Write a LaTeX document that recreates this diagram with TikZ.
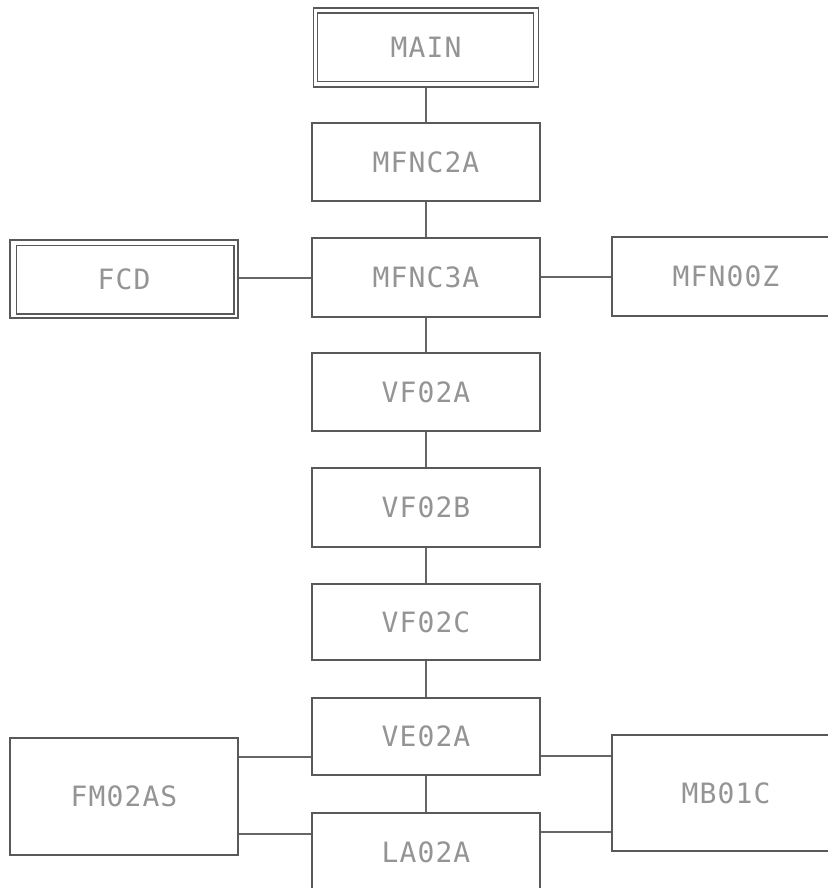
\documentclass[tikz,border=0pt]{standalone}
\usepackage{fontspec}
\newfontfamily\plotfont[LetterSpace=4]{DejaVu Sans Mono}
\usetikzlibrary{calc}
\begin{document}
\begin{tikzpicture}[x=1pt,y=-1pt,
  box/.style={draw=black!65, line width=1.6pt, rectangle, minimum width=228pt, minimum height=78pt,
    inner sep=0pt, font=\plotfont\fontsize{28}{30}\selectfont, text=black!42},
  tallbox/.style={box, minimum height=117pt},
  link/.style={draw=black!60, line width=1.6pt}]
\useasboundingbox (0,0) rectangle (827,888);
\node[box, minimum width=225pt, minimum height=79pt] (main) at (426,47.5) {MAIN};
\draw[draw=black!65, line width=1.4pt] ([shift={(5,6)}]main.north west) rectangle ([shift={(-6,-6)}]main.south east);
\node[box] (mfnc2a) at (426,162) {MFNC2A};
\node[box, minimum height=79pt] (mfnc3a) at (426,277.5) {MFNC3A};
\node[box] (fcd) at (124,279) {FCD};
\draw[draw=black!65, line width=1.4pt] ([shift={(7,6)}]fcd.north west) rectangle ([shift={(-5,-5)}]fcd.south east);
\node[box, minimum height=79pt] (mfn00z) at (726,276.5) {MFN00Z};
\node[box] (vf02a) at (426,392) {VF02A};
\node[box, minimum height=79pt] (vf02b) at (426,507.5) {VF02B};
\node[box, minimum height=76pt] (vf02c) at (426,622) {VF02C};
\node[box, minimum height=77pt] (ve02a) at (426,736.5) {VE02A};
\node[box] (la02a) at (426,852) {LA02A};
\node[tallbox] (fm02as) at (124,796.5) {FM02AS};
\node[tallbox, minimum height=116pt] (mb01c) at (726,793) {MB01C};
\draw[link] (main.south) -- (mfnc2a.north);
\draw[link] (mfnc2a.south) -- (mfnc3a.north);
\draw[link] (mfnc3a.south) -- (vf02a.north);
\draw[link] (vf02a.south) -- (vf02b.north);
\draw[link] (vf02b.south) -- (vf02c.north);
\draw[link] (vf02c.south) -- (ve02a.north);
\draw[link] (ve02a.south) -- (la02a.north);
\coordinate (ya) at (0,278);
\coordinate (yb) at (0,277);
\draw[link] (fcd.east |- ya) -- (mfnc3a.west |- ya);
\draw[link] (mfnc3a.east |- yb) -- (mfn00z.west |- yb);
\coordinate (y1) at (0,757);
\coordinate (y2) at (0,834);
\coordinate (y3) at (0,756);
\coordinate (y4) at (0,832);
\draw[link] (fm02as.east |- y1) -- (ve02a.west |- y1);
\draw[link] (fm02as.east |- y2) -- (la02a.west |- y2);
\draw[link] (ve02a.east |- y3) -- (mb01c.west |- y3);
\draw[link] (la02a.east |- y4) -- (mb01c.west |- y4);
\end{tikzpicture}
\end{document}
